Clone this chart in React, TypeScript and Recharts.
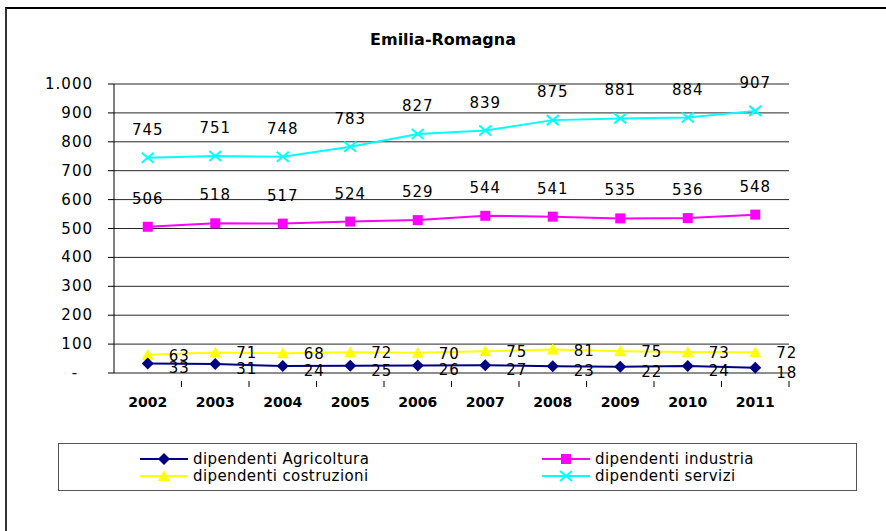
import React from 'react';
import { LineChart, Line, XAxis, YAxis, CartesianGrid, LabelList } from 'recharts';

const years = ['2002', '2003', '2004', '2005', '2006', '2007', '2008', '2009', '2010', '2011'];
const agricoltura = [33, 31, 24, 25, 26, 27, 23, 22, 24, 18];
const industria = [506, 518, 517, 524, 529, 544, 541, 535, 536, 548];
const costruzioni = [63, 71, 68, 72, 70, 75, 81, 75, 73, 72];
const servizi = [745, 751, 748, 783, 827, 839, 875, 881, 884, 907];
const yTicks = [0, 100, 200, 300, 400, 500, 600, 700, 800, 900, 1000];

const data = years.map((y, i) => ({
    year: y,
    agri: agricoltura[i],
    ind: industria[i],
    costr: costruzioni[i],
    serv: servizi[i],
}));

const NUM_FONT = '"DejaVu Sans", Verdana, sans-serif';
const HALF_BAND = 33.75;

const fmtY = (v: number) => (v === 0 ? '-' : v === 1000 ? '1.000' : String(v));

// marcatori
const Diamond = ({ cx, cy }: any) => (
    <path d={`M${cx},${cy - 6} L${cx + 6},${cy} L${cx},${cy + 6} L${cx - 6},${cy} Z`} fill="#000080" />
);
const Square = ({ cx, cy }: any) => (
    <rect x={cx - 5} y={cy - 5} width={10} height={10} fill="#FF00FF" />
);
const Triangle = ({ cx, cy }: any) => (
    <path d={`M${cx},${cy - 6} L${cx + 6},${cy + 5} L${cx - 6},${cy + 5} Z`} fill="#FFFF00" />
);
const Cross = ({ cx, cy }: any) => (
    <path d={`M${cx - 6},${cy - 5} L${cx + 6},${cy + 5} M${cx + 6},${cy - 5} L${cx - 6},${cy + 5}`} stroke="#00FFFF" strokeWidth={2} fill="none" />
);

const labelStyle = { fontFamily: NUM_FONT, fontSize: 15, fill: '#000', letterSpacing: 1 };

const topLabel = (props: any) => {
    const { x, y, value } = props;
    return (
        <text x={x} y={y - 23} textAnchor="middle" style={labelStyle}>{value}</text>
    );
};
const rightLabel = (dy: number) => (props: any) => {
    const { x, y, value } = props;
    return (
        <text x={x + 21} y={y + dy} textAnchor="start" style={labelStyle}>{value}</text>
    );
};

const XTick = ({ x, y, payload }: any) => (
    <g>
        <line x1={x + HALF_BAND} y1={y} x2={x + HALF_BAND} y2={y + 6} stroke="#000" />
        <text x={x} y={y + 26} textAnchor="middle" style={{ fontFamily: NUM_FONT, fontSize: 14, fontWeight: 'bold', fill: '#000' }}>
            {payload.value}
        </text>
    </g>
);

// il trattino dello zero sta più a sinistra, come nel formato contabile
const YTick = ({ x, y, payload }: any) => (
    <text
        x={payload.value === 0 ? x - 18 : x}
        y={y}
        dy={5}
        textAnchor={payload.value === 0 ? 'middle' : 'end'}
        style={labelStyle}
    >
        {fmtY(payload.value)}
    </text>
);

const LegendItem = ({ color, label, marker }: { color: string; label: string; marker: string }) => (
    <div style={{ display: 'flex', alignItems: 'center', height: 17 }}>
        <svg width={50} height={14} style={{ marginRight: 3 }}>
            <line x1={0} y1={7} x2={48} y2={7} stroke={color} strokeWidth={2} />
            {marker === 'diamond' && <Diamond cx={24} cy={7} />}
            {marker === 'square' && <Square cx={24} cy={7} />}
            {marker === 'triangle' && <Triangle cx={24} cy={7} />}
            {marker === 'cross' && <Cross cx={24} cy={7} />}
        </svg>
        <span style={{ fontFamily: NUM_FONT, fontSize: 15, letterSpacing: 0.4, color: '#000' }}>{label}</span>
    </div>
);

export default function App() {
    return (
        <div style={{ position: 'absolute', left: 0, top: 0, width: 886, height: 531, background: '#fff', overflow: 'hidden' }}>
            {/* cornice */}
            <div style={{ position: 'absolute', left: 5, top: 7, width: 900, height: 600, borderLeft: '2px solid #333', borderTop: '2px solid #000' }} />

            <div style={{ position: 'absolute', left: 0, width: 886, top: 30, textAlign: 'center', fontFamily: NUM_FONT, fontWeight: 'bold', fontSize: 16, color: '#000' }}>
                Emilia-Romagna
            </div>

            <div style={{ position: 'absolute', left: 0, top: 0 }}>
                <LineChart width={886} height={531} data={data} margin={{ top: 84, right: 97, left: 54, bottom: 128 }}>
                    <CartesianGrid horizontal vertical={false} stroke="#000" strokeOpacity={0.85} />
                    <XAxis
                        dataKey="year"
                        height={30}
                        stroke="#888"
                        tickLine={false}
                        tick={<XTick />}
                        interval={0}
                        padding={{ left: HALF_BAND, right: HALF_BAND }}
                    />
                    <YAxis
                        width={60}
                        domain={[0, 1000]}
                        ticks={yTicks}
                        stroke="#000"
                        tickSize={6}
                        tickMargin={15}
                        tick={<YTick />}
                        interval={0}
                    />
                    <Line dataKey="costr" stroke="#FFFF00" strokeWidth={2} dot={<Triangle />} isAnimationActive={false}>
                        <LabelList dataKey="costr" content={rightLabel(6)} />
                    </Line>
                    <Line dataKey="agri" stroke="#000080" strokeWidth={2} dot={<Diamond />} isAnimationActive={false}>
                        <LabelList dataKey="agri" content={rightLabel(10)} />
                    </Line>
                    <Line dataKey="ind" stroke="#FF00FF" strokeWidth={2} dot={<Square />} isAnimationActive={false}>
                        <LabelList dataKey="ind" content={topLabel} />
                    </Line>
                    <Line dataKey="serv" stroke="#00FFFF" strokeWidth={2} dot={<Cross />} isAnimationActive={false}>
                        <LabelList dataKey="serv" content={topLabel} />
                    </Line>
                </LineChart>
            </div>

            {/* legenda */}
            <div style={{ position: 'absolute', left: 58, top: 443, width: 797, height: 46, border: '1px solid #555', background: '#fff' }}>
                <div style={{ position: 'absolute', left: 81, top: 6 }}>
                    <LegendItem color="#000080" label="dipendenti Agricoltura" marker="diamond" />
                    <LegendItem color="#FFFF00" label="dipendenti costruzioni" marker="triangle" />
                </div>
                <div style={{ position: 'absolute', left: 483, top: 6 }}>
                    <LegendItem color="#FF00FF" label="dipendenti industria" marker="square" />
                    <LegendItem color="#00FFFF" label="dipendenti servizi" marker="cross" />
                </div>
            </div>
        </div>
    );
}
